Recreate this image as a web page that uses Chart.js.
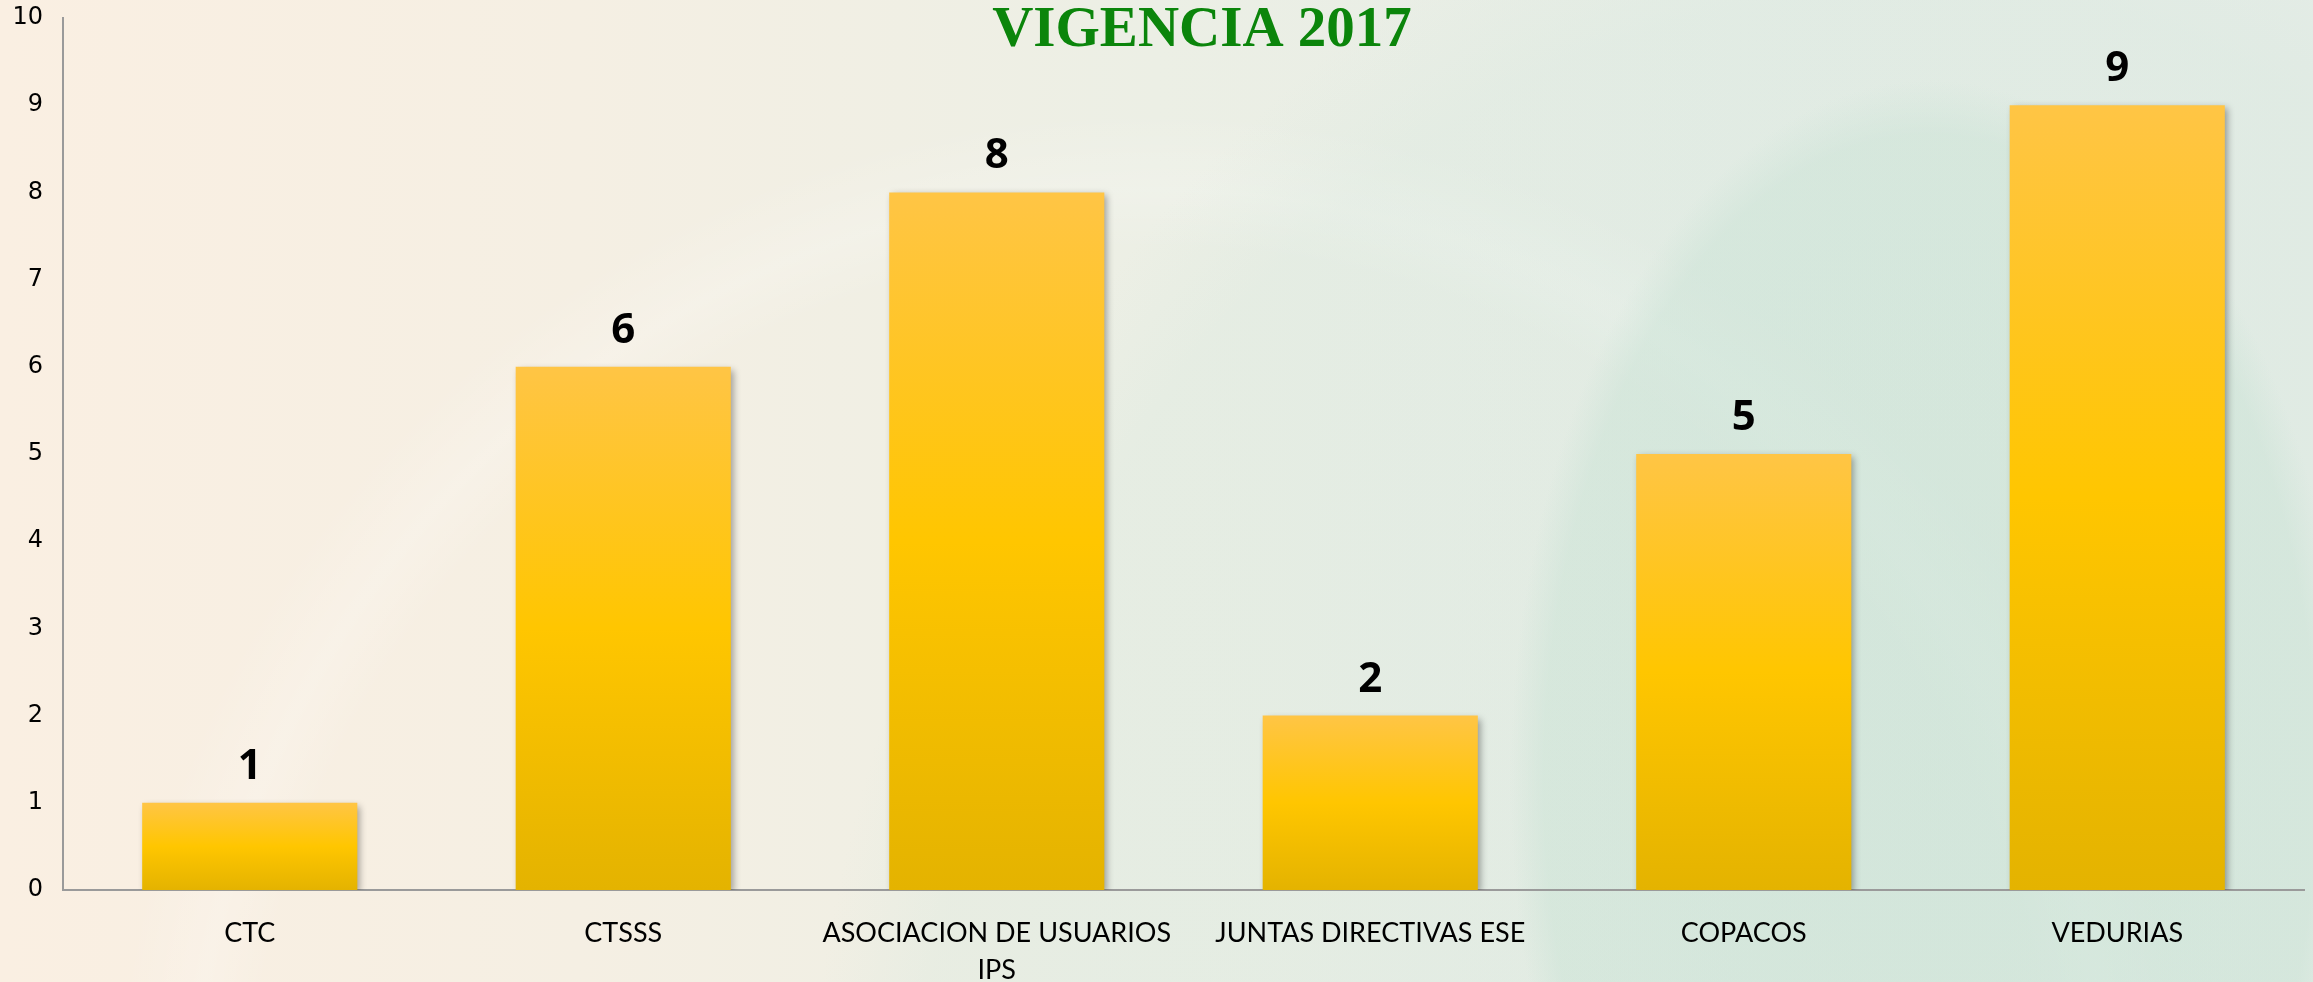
<!DOCTYPE html>
<html>
<head>
<meta charset="utf-8">
<script src="https://cdn.jsdelivr.net/npm/chart.js@4"></script>
<style>
  html, body { margin: 0; padding: 0; }
  body {
    width: 2313px; height: 982px; overflow: hidden;
    background:
      radial-gradient(ellipse 420px 700px at 1930px 780px, rgba(200,226,212,0.55) 0, rgba(200,226,212,0.45) 92%, rgba(210,228,218,0) 100%),
      radial-gradient(ellipse 1100px 1400px at 1900px 1250px, rgba(215,232,222,0.35) 0, rgba(215,232,222,0.3) 90%, rgba(215,232,222,0) 100%),
      radial-gradient(circle at 1150px 1150px, rgba(255,255,255,0) 0, rgba(255,255,255,0) 900px, rgba(255,255,255,0.18) 960px, rgba(255,255,255,0) 1040px),
      linear-gradient(90deg, #faefe2 0%, #f5efe3 25%, #ecefe5 50%, #e6ede6 75%, #e4ece6 100%);
  }
  #wrap { position: absolute; left: 0; top: 0; width: 2313px; height: 982px; }
</style>
</head>
<body>
<div id="wrap"><canvas id="grafico" width="2313" height="982"></canvas></div>
<script>
// =========================
// Datos
// =========================
const categorias = ["CTC", "CTSSS", ["ASOCIACION DE USUARIOS", "IPS"], "JUNTAS DIRECTIVAS ESE", "COPACOS", "VEDURIAS"];
const valores = [1, 6, 8, 2, 5, 9];
const ticksY = [0, 1, 2, 3, 4, 5, 6, 7, 8, 9, 10];
const titulo = "VIGENCIA 2017";

// =========================
// Relleno degradado de las barras
// =========================
function rellenoBarra(context) {
    const chart = context.chart;
    const area = chart.chartArea;
    if (!area) return "#ffc800";
    const y = chart.scales.y;
    const v = context.raw;
    const top = y.getPixelForValue(v);
    const bottom = y.getPixelForValue(0);
    const g = chart.ctx.createLinearGradient(0, top, 0, bottom);
    g.addColorStop(0, "#ffc545");
    g.addColorStop(0.5, "#ffc600");
    g.addColorStop(1, "#e4b300");
    return g;
}

// =========================
// Sombra de barras, etiquetas y título
// =========================
const sombraBarras = {
    id: "sombraBarras",
    beforeDatasetsDraw(chart) {
        const ctx = chart.ctx;
        ctx.save();
        ctx.shadowColor = "rgba(0,0,0,0.35)";
        ctx.shadowBlur = 7;
        ctx.shadowOffsetX = 3;
        ctx.shadowOffsetY = 3;
    },
    afterDatasetsDraw(chart) {
        chart.ctx.restore();
    }
};

const etiquetas = {
    id: "etiquetas",
    afterDraw(chart) {
        const ctx = chart.ctx;
        const meta = chart.getDatasetMeta(0);
        ctx.save();
        ctx.fillStyle = "#000";
        ctx.font = "bold 42px 'Open Sans', sans-serif";
        ctx.textAlign = "center";
        ctx.textBaseline = "alphabetic";
        meta.data.forEach((bar, i) => {
            ctx.fillText(String(valores[i]), bar.x, bar.y - 24);
        });
        // título
        ctx.fillStyle = "#0b850b";
        ctx.font = "bold 57px 'Liberation Serif', 'DejaVu Serif', serif";
        ctx.fillText(titulo, 1202, 46);
        ctx.restore();
    }
};

// =========================
// Gráfico de columnas
// =========================
const ctx = document.getElementById("grafico").getContext("2d");
new Chart(ctx, {
    type: "bar",
    data: {
        labels: categorias,
        datasets: [{
            data: valores,
            backgroundColor: rellenoBarra,
            borderWidth: 0,
            categoryPercentage: 1,
            barPercentage: 0.576
        }]
    },
    options: {
        responsive: false,
        animation: false,
        devicePixelRatio: 1,
        layout: { padding: { top: 18, right: 9, left: 0, bottom: 0 } },
        plugins: {
            legend: { display: false },
            tooltip: { enabled: false }
        },
        scales: {
            x: {
                grid: { display: false, drawTicks: false },
                border: { display: true, color: "#9a9a9a", width: 2 },
                ticks: {
                    color: "#000",
                    padding: 24,
                    maxRotation: 0,
                    autoSkip: false,
                    font: { family: "'Lato', sans-serif", size: 27, lineHeight: 1.4 }
                },
                afterFit(scale) {
                    scale.height = 92;
                    scale.paddingLeft = 0;
                    scale.paddingRight = 0;
                }
            },
            y: {
                min: 0,
                max: 10,
                grid: { display: false, drawTicks: false },
                border: { display: true, color: "#9a9a9a", width: 2 },
                afterBuildTicks(scale) { scale.ticks = ticksY.map(v => ({ value: v })); },
                ticks: {
                    color: "#000",
                    padding: 20,
                    font: { family: "'DejaVu Sans', sans-serif", size: 24 }
                },
                afterFit(scale) {
                    scale.width = 63;
                    scale.paddingTop = 0;
                    scale.paddingBottom = 0;
                }
            }
        }
    },
    plugins: [sombraBarras, etiquetas]
});
</script>
</body>
</html>
